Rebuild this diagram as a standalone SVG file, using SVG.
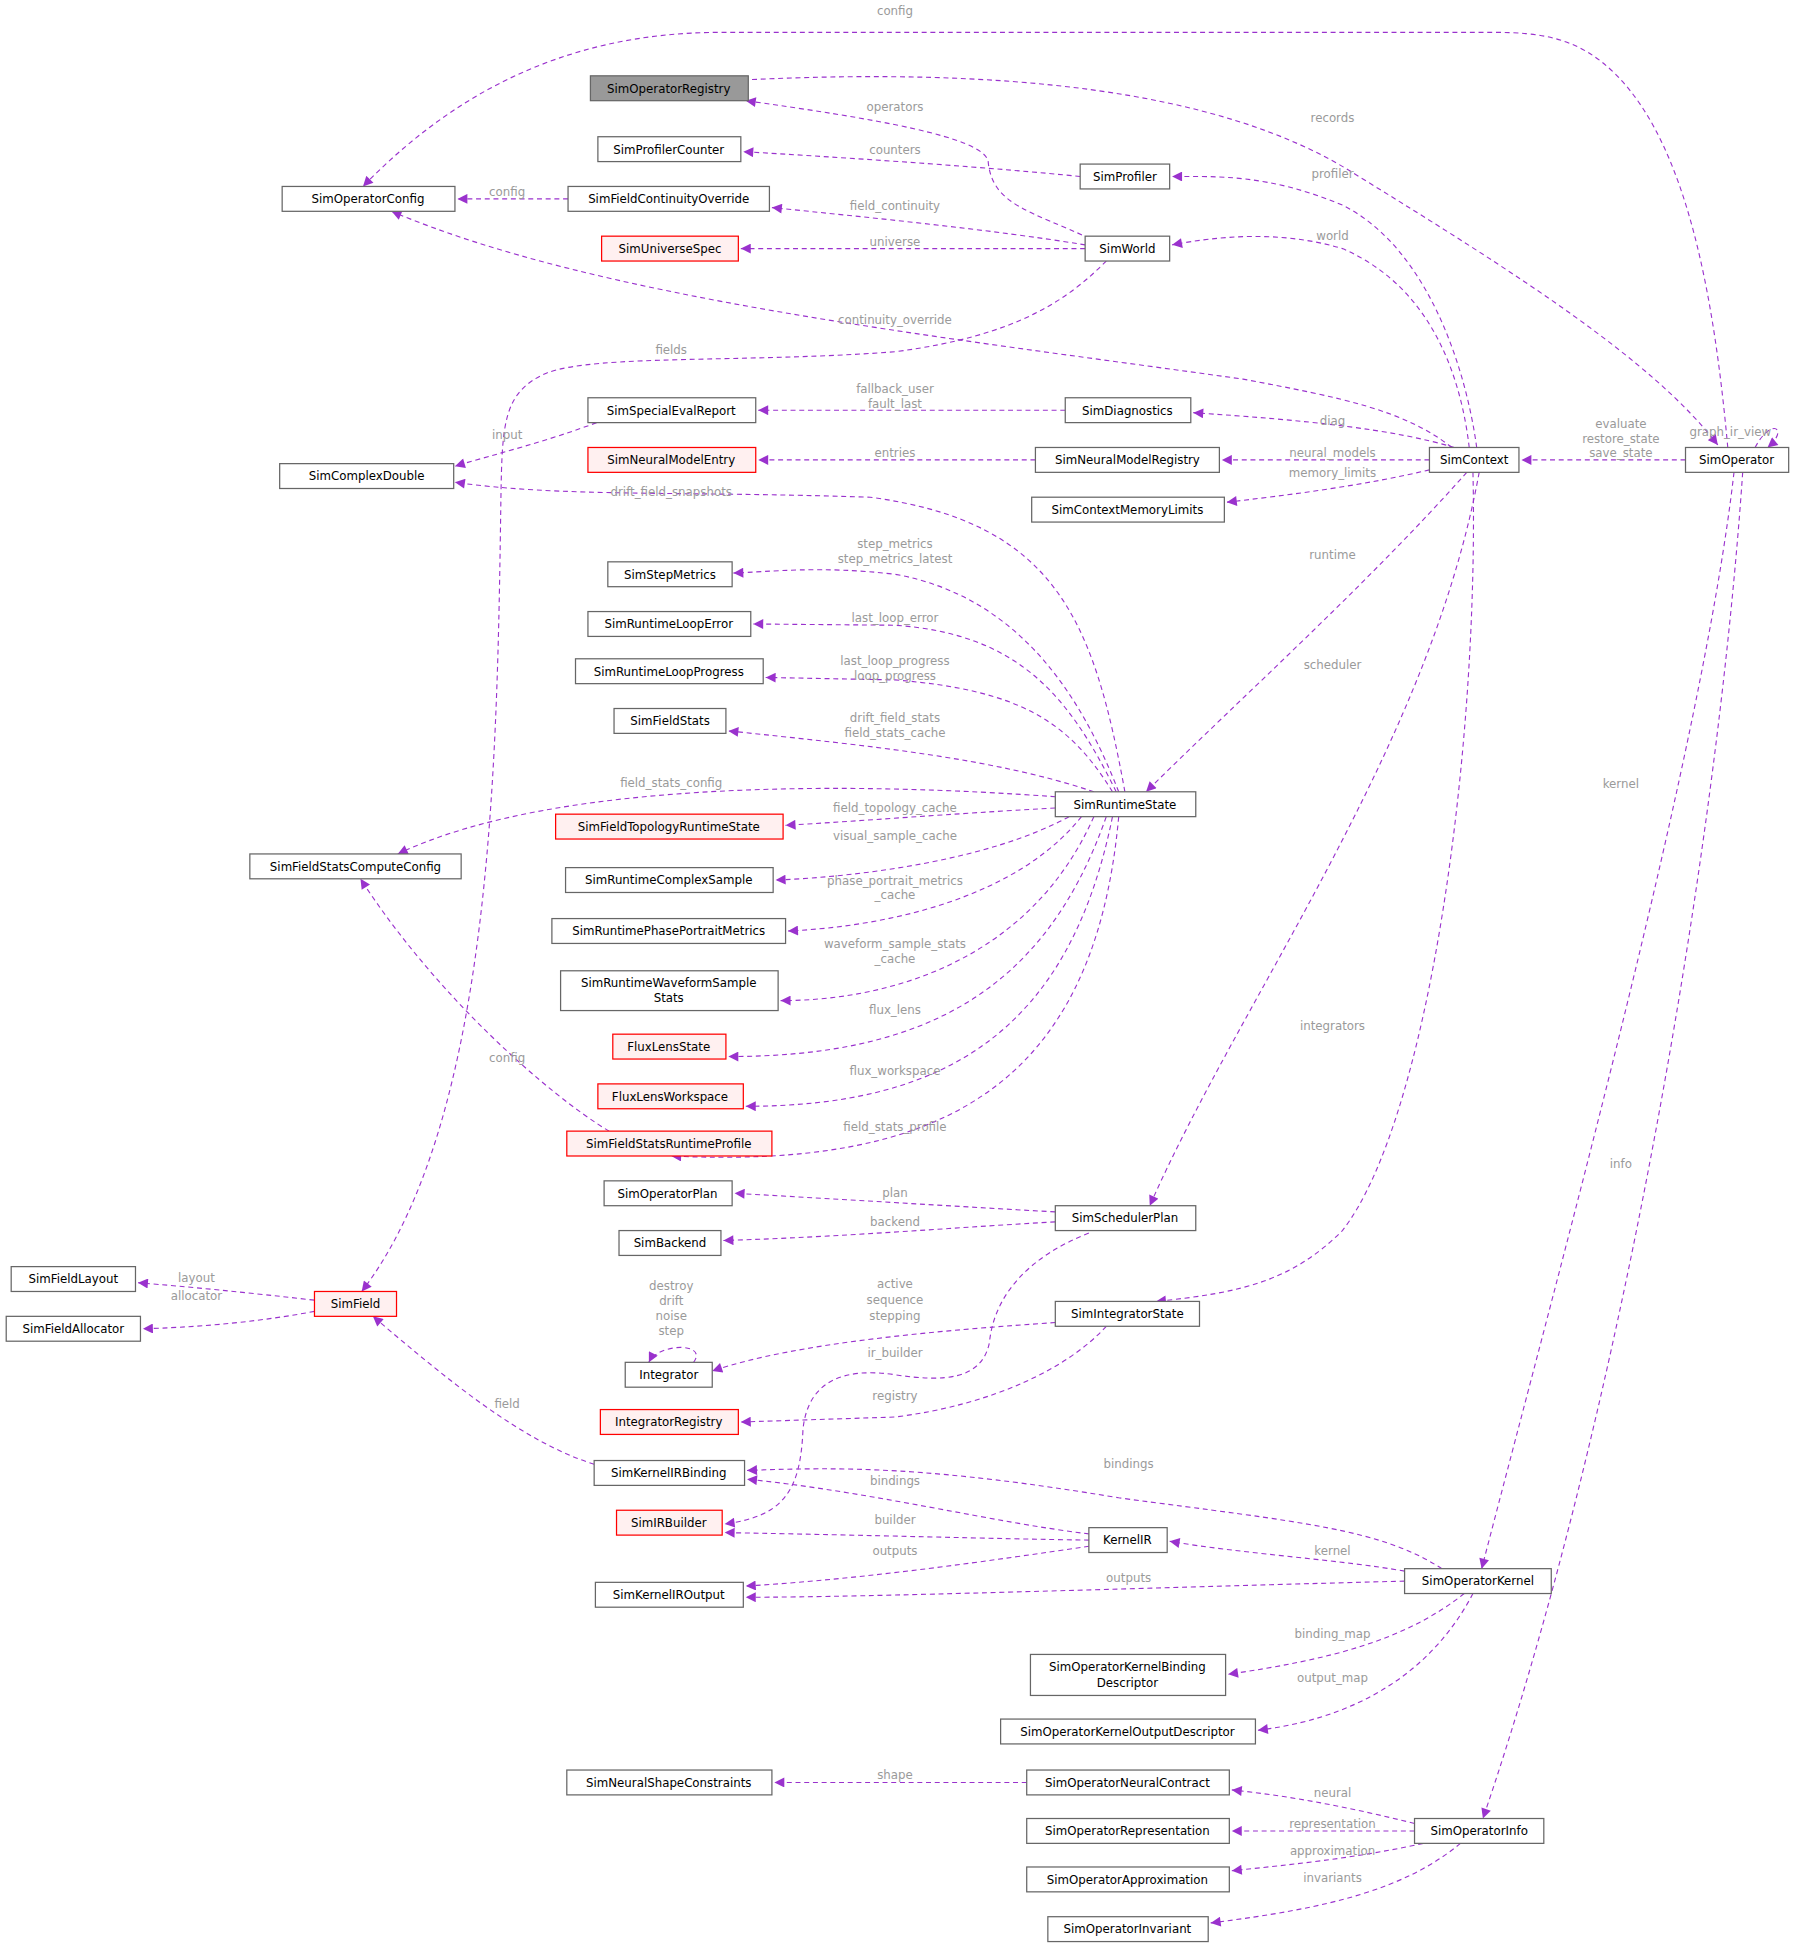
<svg xmlns="http://www.w3.org/2000/svg" width="1801" height="1955" viewBox="0 0 1801 1955">
<defs>
<marker id="ah" viewBox="0 0 10 10" refX="10" refY="5" markerWidth="9" markerHeight="8" markerUnits="userSpaceOnUse" orient="auto"><path d="M0,0 L10,5 L0,10 z" fill="#9a32cd"/></marker>
<style>
.n rect{fill:#fff;stroke:#666;stroke-width:1}
.r rect{fill:#fff0f0;stroke:#ff0000}
.g rect{fill:#999;stroke:#666}
.n text{font-family:"DejaVu Sans",sans-serif;font-size:9.5px;text-anchor:middle;fill:#000}
#edges path{fill:none;stroke:#9a32cd;stroke-width:0.9;stroke-dasharray:4,3;marker-end:url(#ah)}
#edges text{font-family:"DejaVu Sans",sans-serif;font-size:9.5px;text-anchor:middle;fill:#9a9a9a}
</style>
</defs>
<rect width="1801" height="1955" fill="#fff"/>
<g transform="scale(1.243)">
<g id="edges">
<path d="M1390,360 C1380,250 1360,120 1300,60 C1270,30 1240,26 1200,26 L580,26 C450,26 360,80 292,150"/><text x="720" y="12">config</text>
<path d="M605,64 C800,55 980,70 1090,140 C1220,220 1330,290 1382,358"/><text x="1072" y="98">records</text>
<path d="M877,192 C830,170 798,165 795,130 C792,110 700,95 600,81"/><text x="720" y="89">operators</text>
<path d="M869,142 C800,135 700,128 598,122"/><text x="720" y="124">counters</text>
<path d="M873,197 C800,185 700,175 621,167"/><text x="720" y="169">field_continuity</text>
<path d="M873,200 L596,200"/><text x="720" y="198">universe</text>
<path d="M457,160 L368,160"/><text x="408" y="158">config</text>
<path d="M1168,360 C1130,330 1080,320 1000,305 C750,270 480,240 315,170"/><text x="720" y="261">continuity_override</text>
<path d="M890,210 C860,240 820,270 720,283 C600,292 480,285 440,300 C405,315 404,340 403,400 C400,600 398,900 291,1039"/><text x="540" y="285">fields</text>
<path d="M1188,360 C1180,300 1150,200 1080,165 C1020,140 980,142 943,142"/><text x="1072" y="143">profiler</text>
<path d="M1182,360 C1175,300 1150,230 1080,200 C1030,185 980,190 943,197"/><text x="1072" y="193">world</text>
<path d="M1170,360 C1120,345 1050,338 960,332"/><text x="1072" y="342">diag</text>
<path d="M857,330 L610,330"/><text x="720" y="316">fallback_user</text><text x="720" y="328">fault_last</text>
<path d="M1150,370 L983,370"/><text x="1072" y="368">neural_models</text>
<path d="M833,370 L610,370"/><text x="720" y="368">entries</text>
<path d="M1150,378 C1100,390 1040,398 987,404"/><text x="1072" y="384">memory_limits</text>
<path d="M480,340 C440,355 400,365 366,375"/><text x="408" y="353">input</text>
<path d="M905,637 C880,500 850,420 700,400 C550,395 450,400 366,388"/><text x="540" y="399">drift_field_snapshots</text>
<path d="M1180,380 C1100,470 1000,560 922,637"/><text x="1072" y="450">runtime</text>
<path d="M1190,380 C1150,600 1000,800 925,970"/><text x="1072" y="538">scheduler</text>
<path d="M1185,380 C1190,600 1150,900 1080,990 C1040,1030 1000,1040 930,1047"/><text x="1072" y="829">integrators</text>
<path d="M1356,370 L1224,370"/><text x="1304" y="344">evaluate</text><text x="1304" y="356">restore_state</text><text x="1304" y="368">save_state</text>
<path d="M1412,360 C1425,335 1440,345 1422,360"/><text x="1392" y="351">graph_ir_view</text>
<path d="M1395,380 C1370,600 1260,1000 1192,1262"/><text x="1304" y="634">kernel</text>
<path d="M1402,380 C1380,700 1300,1150 1193,1463"/><text x="1304" y="940">info</text>
<path d="M900,637 C870,560 820,480 720,462 C660,455 620,460 590,461"/><text x="720" y="441">step_metrics</text><text x="720" y="453">step_metrics_latest</text>
<path d="M898,637 C860,560 820,510 720,503 L606,502"/><text x="720" y="500">last_loop_error</text>
<path d="M895,637 C860,580 820,555 720,547 L616,545"/><text x="720" y="535">last_loop_progress</text><text x="720" y="547">loop_progress</text>
<path d="M880,637 C800,610 700,600 586,588"/><text x="720" y="581">drift_field_stats</text><text x="720" y="593">field_stats_cache</text>
<path d="M849,641 C700,630 450,625 320,687"/><text x="540" y="633">field_stats_config</text>
<path d="M849,650 C760,655 700,660 632,664"/><text x="720" y="653">field_topology_cache</text>
<path d="M860,657 C800,690 700,705 624,708"/><text x="720" y="676">visual_sample_cache</text>
<path d="M870,657 C820,720 720,745 634,749"/><text x="720" y="712">phase_portrait_metrics</text><text x="720" y="723">_cache</text>
<path d="M880,657 C830,770 720,805 628,805"/><text x="720" y="763">waveform_sample_stats</text><text x="720" y="775">_cache</text>
<path d="M890,657 C840,800 740,850 586,850"/><text x="720" y="816">flux_lens</text>
<path d="M895,657 C860,830 760,890 600,890"/><text x="720" y="865">flux_workspace</text>
<path d="M900,657 C880,880 750,940 540,930"/><text x="720" y="910">field_stats_profile</text>
<path d="M490,910 C440,880 350,800 290,707"/><text x="408" y="854">config</text>
<path d="M849,975 C760,970 680,965 591,960"/><text x="720" y="963">plan</text>
<path d="M849,983 C760,988 680,995 582,998"/><text x="720" y="986">backend</text>
<path d="M876,992 C830,1010 800,1040 796,1080 C790,1110 760,1112 720,1106 C680,1100 650,1110 646,1150 C644,1200 630,1220 583,1226"/><text x="720" y="1092">ir_builder</text>
<path d="M849,1064 C760,1070 640,1080 573,1103"/><text x="720" y="1036">active</text><text x="720" y="1049">sequence</text><text x="720" y="1062">stepping</text>
<path d="M558,1096 C570,1080 530,1080 522,1096"/><text x="540" y="1038">destroy</text><text x="540" y="1050">drift</text><text x="540" y="1062">noise</text><text x="540" y="1074">step</text>
<path d="M890,1067 C860,1100 800,1130 720,1140 L596,1144"/><text x="720" y="1126">registry</text>
<path d="M478,1178 C420,1160 360,1110 300,1059"/><text x="408" y="1133">field</text>
<path d="M253,1046 C200,1040 150,1035 111,1032"/><text x="158" y="1031">layout</text>
<path d="M253,1055 C200,1065 150,1068 115,1069"/><text x="158" y="1046">allocator</text>
<path d="M1160,1262 C1110,1230 1050,1225 900,1205 C750,1180 680,1180 601,1183"/><text x="908" y="1181">bindings</text>
<path d="M876,1234 C800,1225 700,1200 601,1190"/><text x="720" y="1195">bindings</text>
<path d="M876,1239 C800,1238 700,1235 583,1233"/><text x="720" y="1226">builder</text>
<path d="M876,1244 C800,1255 700,1270 600,1276"/><text x="720" y="1251">outputs</text>
<path d="M1130,1264 C1080,1255 1000,1250 941,1240"/><text x="1072" y="1251">kernel</text>
<path d="M1130,1272 C900,1278 700,1285 600,1285"/><text x="908" y="1273">outputs</text>
<path d="M1178,1282 C1130,1320 1070,1335 988,1347"/><text x="1072" y="1318">binding_map</text>
<path d="M1185,1282 C1160,1330 1110,1380 1012,1392"/><text x="1072" y="1353">output_map</text>
<path d="M826,1434 L623,1434"/><text x="720" y="1431">shape</text>
<path d="M1138,1467 C1090,1455 1040,1445 991,1440"/><text x="1072" y="1446">neural</text>
<path d="M1138,1473 L991,1473"/><text x="1072" y="1471">representation</text>
<path d="M1145,1483 C1090,1495 1040,1500 991,1505"/><text x="1072" y="1492">approximation</text>
<path d="M1175,1483 C1130,1520 1070,1535 974,1547"/><text x="1072" y="1514">invariants</text>
</g>
<g id="SimOperatorRegistry" class="n g"><rect x="475" y="61" width="127" height="20"/><text x="538" y="74.5">SimOperatorRegistry</text></g>
<g id="SimProfilerCounter" class="n"><rect x="481" y="110" width="115" height="20"/><text x="538" y="123.5">SimProfilerCounter</text></g>
<g id="SimOperatorConfig" class="n"><rect x="227" y="150" width="139" height="20"/><text x="296" y="163.5">SimOperatorConfig</text></g>
<g id="SimFieldContinuityOverride" class="n"><rect x="457" y="150" width="162" height="20"/><text x="538" y="163.5">SimFieldContinuityOverride</text></g>
<g id="SimUniverseSpec" class="n r"><rect x="484" y="190" width="110" height="20"/><text x="539" y="203.5">SimUniverseSpec</text></g>
<g id="SimProfiler" class="n"><rect x="869" y="132" width="72" height="20"/><text x="905" y="145.5">SimProfiler</text></g>
<g id="SimWorld" class="n"><rect x="873" y="190" width="68" height="20"/><text x="907" y="203.5">SimWorld</text></g>
<g id="SimSpecialEvalReport" class="n"><rect x="473" y="320" width="135" height="20"/><text x="540" y="333.5">SimSpecialEvalReport</text></g>
<g id="SimNeuralModelEntry" class="n r"><rect x="473" y="360" width="135" height="20"/><text x="540" y="373.5">SimNeuralModelEntry</text></g>
<g id="SimComplexDouble" class="n"><rect x="225" y="373" width="140" height="20"/><text x="295" y="386.5">SimComplexDouble</text></g>
<g id="SimDiagnostics" class="n"><rect x="857" y="320" width="101" height="20"/><text x="907" y="333.5">SimDiagnostics</text></g>
<g id="SimNeuralModelRegistry" class="n"><rect x="833" y="360" width="148" height="20"/><text x="907" y="373.5">SimNeuralModelRegistry</text></g>
<g id="SimContextMemoryLimits" class="n"><rect x="830" y="400" width="155" height="20"/><text x="907" y="413.5">SimContextMemoryLimits</text></g>
<g id="SimContext" class="n"><rect x="1150" y="360" width="72" height="20"/><text x="1186" y="373.5">SimContext</text></g>
<g id="SimOperator" class="n"><rect x="1356" y="360" width="83" height="20"/><text x="1397" y="373.5">SimOperator</text></g>
<g id="SimStepMetrics" class="n"><rect x="489" y="452" width="100" height="20"/><text x="539" y="465.5">SimStepMetrics</text></g>
<g id="SimRuntimeLoopError" class="n"><rect x="473" y="492" width="131" height="20"/><text x="538" y="505.5">SimRuntimeLoopError</text></g>
<g id="SimRuntimeLoopProgress" class="n"><rect x="463" y="530" width="151" height="20"/><text x="538" y="543.5">SimRuntimeLoopProgress</text></g>
<g id="SimFieldStats" class="n"><rect x="494" y="570" width="90" height="20"/><text x="539" y="583.5">SimFieldStats</text></g>
<g id="SimRuntimeState" class="n"><rect x="849" y="637" width="113" height="20"/><text x="905" y="650.5">SimRuntimeState</text></g>
<g id="SimFieldStatsComputeConfig" class="n"><rect x="201" y="687" width="170" height="20"/><text x="286" y="700.5">SimFieldStatsComputeConfig</text></g>
<g id="SimFieldTopologyRuntimeState" class="n r"><rect x="447" y="655" width="183" height="20"/><text x="538" y="668.5">SimFieldTopologyRuntimeState</text></g>
<g id="SimRuntimeComplexSample" class="n"><rect x="455" y="698" width="167" height="20"/><text x="538" y="711.5">SimRuntimeComplexSample</text></g>
<g id="SimRuntimePhasePortraitMetrics" class="n"><rect x="444" y="739" width="188" height="20"/><text x="538" y="752.5">SimRuntimePhasePortraitMetrics</text></g>
<g id="SimRuntimeWaveformSampleStats" class="n"><rect x="451" y="781" width="175" height="32"/><text x="538" y="794">SimRuntimeWaveformSample</text><text x="538" y="806">Stats</text></g>
<g id="FluxLensState" class="n r"><rect x="493" y="832" width="91" height="20"/><text x="538" y="845.5">FluxLensState</text></g>
<g id="FluxLensWorkspace" class="n r"><rect x="481" y="872" width="117" height="20"/><text x="539" y="885.5">FluxLensWorkspace</text></g>
<g id="SimFieldStatsRuntimeProfile" class="n r"><rect x="456" y="910" width="165" height="20"/><text x="538" y="923.5">SimFieldStatsRuntimeProfile</text></g>
<g id="SimOperatorPlan" class="n"><rect x="486" y="950" width="103" height="20"/><text x="537" y="963.5">SimOperatorPlan</text></g>
<g id="SimBackend" class="n"><rect x="498" y="990" width="82" height="20"/><text x="539" y="1003.5">SimBackend</text></g>
<g id="SimSchedulerPlan" class="n"><rect x="849" y="970" width="113" height="20"/><text x="905" y="983.5">SimSchedulerPlan</text></g>
<g id="SimIntegratorState" class="n"><rect x="849" y="1047" width="116" height="20"/><text x="907" y="1060.5">SimIntegratorState</text></g>
<g id="Integrator" class="n"><rect x="503" y="1096" width="70" height="20"/><text x="538" y="1109.5">Integrator</text></g>
<g id="IntegratorRegistry" class="n r"><rect x="483" y="1134" width="111" height="20"/><text x="538" y="1147.5">IntegratorRegistry</text></g>
<g id="SimFieldLayout" class="n"><rect x="9" y="1019" width="100" height="20"/><text x="59" y="1032.5">SimFieldLayout</text></g>
<g id="SimFieldAllocator" class="n"><rect x="5" y="1059" width="108" height="20"/><text x="59" y="1072.5">SimFieldAllocator</text></g>
<g id="SimField" class="n r"><rect x="253" y="1039" width="66" height="20"/><text x="286" y="1052.5">SimField</text></g>
<g id="SimKernelIRBinding" class="n"><rect x="478" y="1175" width="121" height="20"/><text x="538" y="1188.5">SimKernelIRBinding</text></g>
<g id="SimIRBuilder" class="n r"><rect x="496" y="1215" width="85" height="20"/><text x="538" y="1228.5">SimIRBuilder</text></g>
<g id="KernelIR" class="n"><rect x="876" y="1229" width="63" height="20"/><text x="907" y="1242.5">KernelIR</text></g>
<g id="SimKernelIROutput" class="n"><rect x="479" y="1273" width="119" height="20"/><text x="538" y="1286.5">SimKernelIROutput</text></g>
<g id="SimOperatorKernel" class="n"><rect x="1130" y="1262" width="118" height="20"/><text x="1189" y="1275.5">SimOperatorKernel</text></g>
<g id="SimOperatorKernelBindingDescriptor" class="n"><rect x="829" y="1331" width="157" height="33"/><text x="907" y="1344">SimOperatorKernelBinding</text><text x="907" y="1357">Descriptor</text></g>
<g id="SimOperatorKernelOutputDescriptor" class="n"><rect x="805" y="1383" width="205" height="20"/><text x="907" y="1396.5">SimOperatorKernelOutputDescriptor</text></g>
<g id="SimNeuralShapeConstraints" class="n"><rect x="456" y="1424" width="165" height="20"/><text x="538" y="1437.5">SimNeuralShapeConstraints</text></g>
<g id="SimOperatorNeuralContract" class="n"><rect x="826" y="1424" width="163" height="20"/><text x="907" y="1437.5">SimOperatorNeuralContract</text></g>
<g id="SimOperatorRepresentation" class="n"><rect x="826" y="1463" width="163" height="20"/><text x="907" y="1476.5">SimOperatorRepresentation</text></g>
<g id="SimOperatorApproximation" class="n"><rect x="826" y="1502" width="163" height="20"/><text x="907" y="1515.5">SimOperatorApproximation</text></g>
<g id="SimOperatorInvariant" class="n"><rect x="843" y="1542" width="129" height="20"/><text x="907" y="1555.5">SimOperatorInvariant</text></g>
<g id="SimOperatorInfo" class="n"><rect x="1138" y="1463" width="104" height="20"/><text x="1190" y="1476.5">SimOperatorInfo</text></g>
</g>
</svg>
